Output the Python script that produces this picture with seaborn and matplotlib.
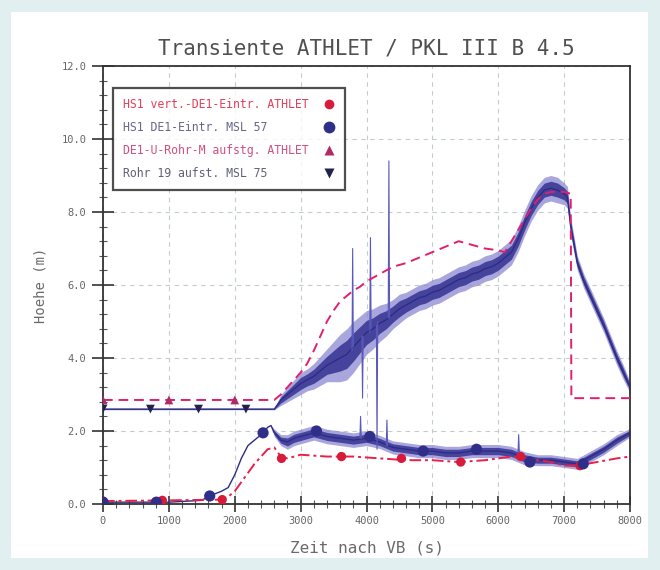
import numpy as np
import pandas as pd
import seaborn as sns
import matplotlib.pyplot as plt
from matplotlib.lines import Line2D
from matplotlib.patches import Rectangle
from matplotlib.ticker import MultipleLocator, FormatStrFormatter

sns.set_style("white")
plt.rcParams['font.family'] = ['DejaVu Sans Mono', 'DejaVu Sans']

# HS1 vert. DE1-Eintr. ATHLET (rot, strichpunkt)
t_hs_ath = [0, 1000, 1800, 1900, 2000, 2100, 2200, 2300, 2400, 2500, 2600, 2700, 2800, 3000, 3400,
            3800, 4200, 4600, 5000, 5400, 5800, 6200, 6400, 6800, 7000, 7200, 7500, 7800, 8000]
h_hs_ath = [0.08, 0.1, 0.12, 0.2, 0.35, 0.6, 0.85, 1.1, 1.3, 1.5, 1.55, 1.3, 1.25, 1.35, 1.3,
            1.3, 1.25, 1.2, 1.2, 1.15, 1.2, 1.3, 1.25, 1.15, 1.05, 1.05, 1.15, 1.25, 1.3]

# HS1 DE1-Eintr. MSL 57 (Versuch, blau, verrauscht -> Band)
t_hs57 = [0, 1000, 1500, 1600, 1700, 1800, 1900, 2000, 2100, 2200, 2300, 2400, 2500, 2550, 2600,
          2700, 2800, 2900, 3000, 3200, 3400, 3600, 3800, 4000, 4200, 4400, 4600, 4800, 5000, 5200,
          5400, 5600, 5800, 6000, 6200, 6400, 6600, 6800, 7000, 7200, 7400, 7600, 7800, 8000]
h_hs57 = [0.05, 0.05, 0.1, 0.2, 0.28, 0.35, 0.45, 0.8, 1.25, 1.6, 1.75, 1.9, 2.1, 2.15, 1.95,
          1.75, 1.7, 1.8, 1.85, 1.95, 1.85, 1.8, 1.75, 1.8, 1.7, 1.55, 1.5, 1.45, 1.45, 1.4,
          1.4, 1.45, 1.45, 1.45, 1.4, 1.25, 1.2, 1.2, 1.15, 1.1, 1.3, 1.5, 1.75, 1.95]
w_hs57 = [0, 0, 0, 0, 0, 0, 0, 0, 0, 0, 0, 0, 0, 0, 0.1,
          0.15, 0.2, 0.2, 0.2, 0.2, 0.2, 0.2, 0.2, 0.2, 0.18, 0.18, 0.18, 0.18, 0.18, 0.18,
          0.18, 0.18, 0.18, 0.18, 0.18, 0.18, 0.15, 0.15, 0.15, 0.15, 0.15, 0.15, 0.15, 0.12]

# DE1-U-Rohr aufstg. ATHLET (rot, gestrichelt)
t_ur_ath = [0, 2600, 2700, 2800, 2900, 3000, 3100, 3200, 3300, 3400, 3500, 3600, 3700, 3800, 3900,
            4000, 4200, 4400, 4600, 4800, 5000, 5200, 5400, 5600, 5800, 6000, 6100, 6200, 6300,
            6400, 6500, 6600, 6700, 6800, 6900, 7000, 7100, 7110, 8000]
h_ur_ath = [2.85, 2.85, 3.0, 3.2, 3.4, 3.6, 3.85, 4.2, 4.6, 5.0, 5.3, 5.55, 5.7, 5.85, 5.95,
            6.1, 6.3, 6.5, 6.6, 6.75, 6.9, 7.05, 7.2, 7.1, 7.0, 6.95, 6.9, 7.2, 7.5,
            7.8, 8.1, 8.35, 8.5, 8.55, 8.55, 8.55, 8.5, 2.9, 2.9]

# Rohr 19 aufst. MSL 75 (Versuch, dunkelblau, verrauscht -> Band)
t_r19 = [0, 2600, 2700, 2800, 2900, 3000, 3100, 3200, 3300, 3400, 3500, 3600, 3700, 3800, 3900,
         4000, 4100, 4200, 4300, 4400, 4500, 4600, 4700, 4800, 4900, 5000, 5100, 5200, 5300, 5400,
         5500, 5600, 5700, 5800, 5900, 6000, 6100, 6200, 6300, 6400, 6500, 6600, 6700, 6800, 6900,
         7000, 7050, 7100, 7200, 7300, 7400, 7500, 7600, 7700, 7800, 7900, 8000]
h_r19 = [2.6, 2.6, 2.85, 3.0, 3.15, 3.3, 3.4, 3.5, 3.65, 3.8, 3.9, 4.0, 4.1, 4.3, 4.5,
         4.7, 4.8, 4.95, 5.05, 5.2, 5.35, 5.45, 5.55, 5.65, 5.7, 5.8, 5.85, 5.95, 6.05, 6.15,
         6.2, 6.3, 6.35, 6.45, 6.5, 6.6, 6.75, 6.9, 7.25, 7.7, 8.1, 8.4, 8.6, 8.65, 8.6,
         8.5, 8.4, 7.6, 6.6, 6.1, 5.7, 5.3, 4.9, 4.45, 4.0, 3.6, 3.2]
w_r19 = [0.02, 0.02, 0.15, 0.2, 0.25, 0.3, 0.3, 0.35, 0.4, 0.45, 0.55, 0.65, 0.7, 0.7, 0.65,
         0.6, 0.55, 0.5, 0.45, 0.4, 0.4, 0.35, 0.35, 0.35, 0.35, 0.35, 0.35, 0.35, 0.35, 0.35,
         0.35, 0.35, 0.35, 0.35, 0.35, 0.35, 0.35, 0.35, 0.35, 0.35, 0.35, 0.35, 0.35, 0.35, 0.35,
         0.3, 0.3, 0.25, 0.2, 0.2, 0.2, 0.2, 0.2, 0.2, 0.2, 0.2, 0.15]

# einzelne Ausreisser (Spikes) der Messsignale
spk_id = [1, 1, 1, 2, 2, 2, 3, 3, 3, 4, 4, 4, 5, 5, 5, 6, 6, 6, 7, 7, 7, 8, 8, 8]
spk_t = [3780, 3790, 3800, 3930, 3940, 3950, 4150, 4160, 4170, 4330, 4340, 4350,
         4050, 4060, 4070, 3900, 3910, 3920, 4300, 4310, 4320, 6300, 6310, 6320]
spk_h = [4.2, 7.0, 4.3, 4.6, 2.9, 4.6, 4.9, 1.5, 5.0, 5.1, 9.4, 5.1,
         4.7, 7.3, 4.8, 1.8, 2.4, 1.8, 1.6, 2.3, 1.6, 1.4, 1.9, 1.4]

# Symbole
mk_hs_ath_t = [0, 900, 1810, 2710, 3620, 4530, 5430, 6340, 7240]
mk_hs_ath_h = [0.08, 0.1, 0.12, 1.25, 1.3, 1.25, 1.15, 1.3, 1.05]
mk_hs57_t = [0, 810, 1620, 2430, 3240, 4050, 4860, 5670, 6480, 7290]
mk_hs57_h = [0.05, 0.05, 0.22, 1.95, 2.0, 1.85, 1.45, 1.5, 1.15, 1.1]
mk_ur_t = [0, 1000, 2000]
mk_ur_h = [2.85, 2.85, 2.85]
mk_r19_t = [0, 720, 1450, 2170]
mk_r19_h = [2.6, 2.6, 2.6, 2.6]

labels = ["HS1 vert.-DE1-Eintr. ATHLET", "HS1 DE1-Eintr. MSL 57",
          "DE1-U-Rohr-M aufstg. ATHLET", "Rohr 19 aufst. MSL 75"]

c_red = '#e8204a'
c_pink = '#e0206e'
c_blue = '#2e2c86'
c_halo = '#8d88d2'

fig = plt.figure(figsize=(6.6, 5.7), dpi=100)
fig.patch.set_facecolor('#e2eff1')
fig.patches.append(Rectangle((11 / 660, 12 / 570), 637 / 660, 546 / 570,
                             transform=fig.transFigure, facecolor='white',
                             edgecolor='none', zorder=-10))
ax = fig.add_axes([103 / 660, 66 / 570, 527 / 660, 438 / 570])
ax.set_zorder(1)
ax.set_facecolor('white')

def band(t, h, w, inner):
    t = np.array(t); h = np.array(h); w = np.array(w)
    ax.fill_between(t, h - w, h + w, color=c_halo, alpha=0.75, lw=0, zorder=2)
    ax.fill_between(t, h - w * 0.55, h + w * 0.55, color=inner, alpha=0.9, lw=0, zorder=2.1)

df_r19 = pd.DataFrame({'t': t_r19, 'h': h_r19})
df_hs57 = pd.DataFrame({'t': t_hs57, 'h': h_hs57})
df_hs_ath = pd.DataFrame({'t': t_hs_ath, 'h': h_hs_ath})
df_ur = pd.DataFrame({'t': t_ur_ath, 'h': h_ur_ath})
df_spk = pd.DataFrame({'id': spk_id, 't': spk_t, 'h': spk_h})

band(t_r19, h_r19, w_r19, '#3a3894')
band(t_hs57, h_hs57, w_hs57, '#3c3a98')
sns.lineplot(data=df_r19, x='t', y='h', ax=ax, color=c_blue, lw=1.0, sort=False,
             estimator=None, zorder=3)
sns.lineplot(data=df_hs57, x='t', y='h', ax=ax, color=c_blue, lw=1.0, sort=False,
             estimator=None, zorder=3)
sns.lineplot(data=df_spk, x='t', y='h', units='id', ax=ax, color='#5a58b8', lw=0.8,
             sort=False, estimator=None, zorder=3)
sns.lineplot(data=df_hs_ath, x='t', y='h', ax=ax, color=c_red, lw=1.4, sort=False,
             estimator=None, zorder=4).lines[-1].set_dashes([6, 2, 1.5, 2])
sns.lineplot(data=df_ur, x='t', y='h', ax=ax, color=c_pink, lw=1.4, sort=False,
             estimator=None, zorder=4).lines[-1].set_dashes([5, 3])

sns.scatterplot(x=mk_hs_ath_t, y=mk_hs_ath_h, ax=ax, color='#d81b3a', s=45, marker='o',
                edgecolor='none', zorder=5)
sns.scatterplot(x=mk_hs57_t, y=mk_hs57_h, ax=ax, color='#2f2f8a', s=65, marker='o',
                edgecolor='none', zorder=5)
sns.scatterplot(x=mk_ur_t, y=mk_ur_h, ax=ax, color='#b02a66', s=40, marker='^',
                edgecolor='none', zorder=5)
sns.scatterplot(x=mk_r19_t, y=mk_r19_h, ax=ax, color='#22224e', s=40, marker='v',
                edgecolor='none', zorder=5)

ax.set_xlim(0, 8000)
ax.set_ylim(0, 12)
ax.xaxis.set_major_locator(MultipleLocator(1000))
ax.xaxis.set_minor_locator(MultipleLocator(200))
ax.yaxis.set_major_locator(MultipleLocator(2))
ax.yaxis.set_minor_locator(MultipleLocator(0.4))
ax.yaxis.set_major_formatter(FormatStrFormatter('%.1f'))
ax.grid(True, which='major', ls=(0, (4, 4)), color='#c4cccc', lw=0.8, zorder=1)
ax.set_axisbelow(True)
for s in ax.spines.values():
    s.set_color('#333333')
    s.set_linewidth(1.3)
ax.tick_params(axis='both', which='major', direction='inout', length=12, width=1.2,
               color='#333333', labelsize=7.5, labelcolor='#666666')
ax.tick_params(axis='both', which='minor', direction='inout', length=6, width=0.8,
               color='#555555')
ax.tick_params(axis='y', which='major', length=16, pad=4)
ax.tick_params(axis='x', which='major', pad=3)
ax.tick_params(bottom=True, left=True, which='both')

ax.set_title("Transiente ATHLET / PKL III B 4.5", fontsize=15, color='#505050', pad=8)
ax.set_xlabel("Zeit nach VB (s)", fontsize=11.5, color='#6a6a6a', labelpad=10)
ax.set_ylabel("Hoehe (m)", fontsize=10, color='#6a6a6a', labelpad=10)

handles = [Line2D([], [], ls='none', marker='o', ms=7, color='#d81b3a', mec='none'),
           Line2D([], [], ls='none', marker='o', ms=8.5, color='#2f2f8a', mec='none'),
           Line2D([], [], ls='none', marker='^', ms=6.5, color='#b02a66', mec='none'),
           Line2D([], [], ls='none', marker='v', ms=6.5, color='#22224e', mec='none')]
# Monospace-Schrift: Texte auf gleiche Laenge bringen, damit sie links buendig stehen
width = max(len(l) for l in labels)
leg = ax.legend(handles, [l.ljust(width) for l in labels], loc='upper left',
                bbox_to_anchor=(0.019, 0.95), markerfirst=False, fontsize=8.3,
                frameon=True, fancybox=False, handlelength=1.0, handletextpad=1.2,
                labelspacing=0.85, borderpad=0.9, borderaxespad=0)
leg.get_frame().set_edgecolor('#222222')
leg.get_frame().set_linewidth(1.6)
for txt, col in zip(leg.get_texts(), ['#e0405a', '#666688', '#d05080', '#60607a']):
    txt.set_color(col)

fig.savefig("out.png", dpi=100, facecolor=fig.get_facecolor())
